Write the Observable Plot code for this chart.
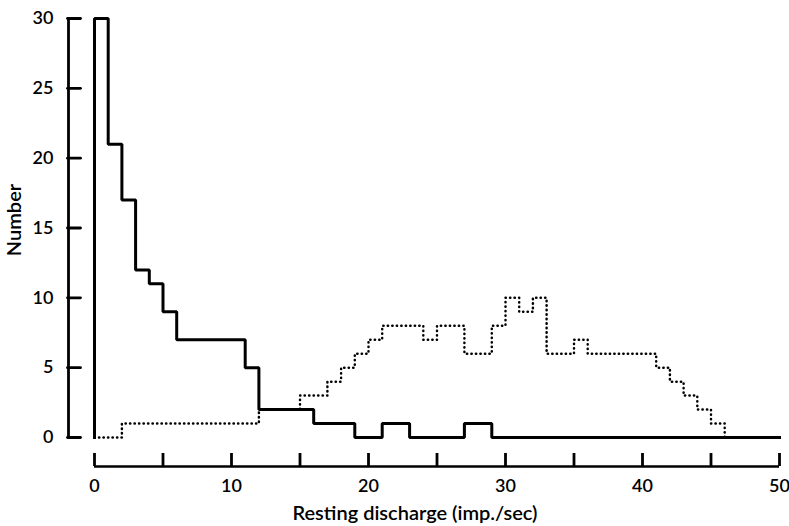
<!DOCTYPE html>
<html>
<head>
<meta charset="utf-8">
<script src="https://cdn.jsdelivr.net/npm/d3@7"></script>
<script src="https://cdn.jsdelivr.net/npm/@observablehq/plot@0.6"></script>
<style>
  html, body { margin: 0; padding: 0; background: #fff; }
</style>
</head>
<body>
<div id="chart"></div>
<script>
// Bin left edges (imp./sec), bin width 1
const binStarts = [0,1,2,3,4,5,6,7,8,9,10,11,12,13,14,15,16,17,18,19,20,21,22,23,24,25,26,27,28,29,30,31,32,33,34,35,36,37,38,39,40,41,42,43,44,45,46,47,48,49];
const binEnd = 50;
// Solid histogram
const solidCounts = [30,21,17,12,11,9,7,7,7,7,7,5,2,2,2,2,1,1,1,0,0,1,1,0,0,0,0,1,1,0,0,0,0,0,0,0,0,0,0,0,0,0,0,0,0,0,0,0,0,0];
// Dotted histogram
const dottedCounts = [0,0,1,1,1,1,1,1,1,1,1,1,2,2,2,3,3,4,5,6,7,8,8,8,7,8,8,6,6,8,10,9,10,6,6,7,6,6,6,6,6,5,4,3,2,1,0,0,0,0];
const xTicks = [0,5,10,15,20,25,30,35,40,45,50];
const yTicks = [0,5,10,15,20,25,30];

function stepPoints(counts) {
  const pts = [{x: binStarts[0], y: 0}];
  binStarts.forEach((b, i) => pts.push({x: b, y: counts[i]}));
  pts.push({x: binEnd, y: counts[counts.length - 1]});
  pts.push({x: binEnd, y: 0});
  return pts;
}
const solidPts = stepPoints(solidCounts);
const dottedPts = stepPoints(dottedCounts);

const font = "Lato, 'Open Sans', sans-serif";
const tickShape = {draw(context, l) { context.moveTo(0, 0); context.lineTo(0, -l); }};

const chart = Plot.plot({
  width: 789,
  height: 526,
  marginLeft: 94,
  marginRight: 10,
  marginTop: 18,
  marginBottom: 89,
  style: {fontFamily: font, fontSize: "18px", color: "#000", background: "#fff"},
  x: {domain: [0, 50]},
  y: {domain: [0, 30]},
  marks: [
    // axis lines
    Plot.ruleY([0], {x1: 0, x2: 50, dy: 29, stroke: "#000", strokeWidth: 2.6}),
    Plot.ruleX([0], {y1: 0, y2: 30, dx: -26, stroke: "#000", strokeWidth: 2.8}),
    Plot.axisX({
      ticks: xTicks,
      tickFormat: d => d % 10 === 0 ? String(d) : "",
      tickSize: -13,
      tickPadding: 26,
      dy: 29,
      strokeWidth: 2.8,
      label: null,
      fontSize: 18,
      fontWeight: 600
    }),
    // y ticks pointing inward (to the right) from the y axis line
    Plot.vector(yTicks, {
      x: () => 0, y: d => d, length: 13, rotate: 90, anchor: "start",
      shape: tickShape, dx: -27, stroke: "#000", strokeWidth: 2.8
    }),
    Plot.axisY({
      ticks: yTicks,
      tickFormat: d => String(d),
      tickSize: 0,
      tickPadding: 41,
      label: null,
      fontSize: 18,
      fontWeight: 600
    }),
    Plot.text(["Resting discharge (imp./sec)"], {
      frameAnchor: "bottom", dx: -22, dy: 82, fontSize: 20, fontWeight: 600, fill: "#000"
    }),
    Plot.text(["Number"], {
      frameAnchor: "left", textAnchor: "middle", rotate: -90, dx: -80, dy: -8,
      fontSize: 20, fontWeight: 600, fill: "#000"
    }),
    Plot.line(dottedPts, {
      x: "x", y: "y", curve: "step-after",
      stroke: "#000", strokeWidth: 2.5, strokeDasharray: "0.3,4.2", strokeLinecap: "round"
    }),
    Plot.line(solidPts, {
      x: "x", y: "y", curve: "step-after",
      stroke: "#000", strokeWidth: 3, strokeLinejoin: "miter", strokeLinecap: "square"
    })
  ]
});
document.getElementById("chart").appendChild(chart);
</script>
</body>
</html>
